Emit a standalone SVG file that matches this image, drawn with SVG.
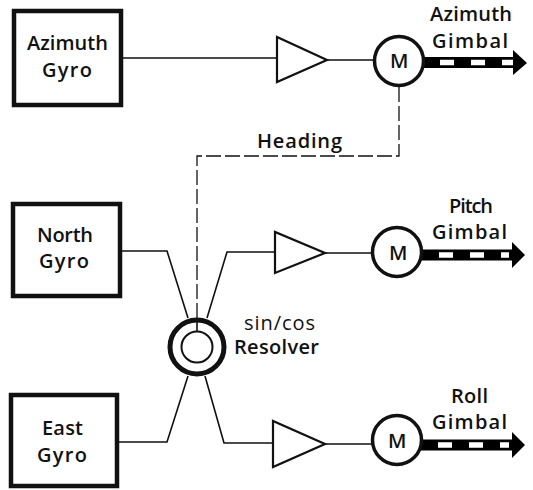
<svg xmlns="http://www.w3.org/2000/svg" width="533" height="490" viewBox="0 0 533 490">
<style>
.bx{fill:#fff;stroke:#111;stroke-width:4.5}
.t{font-family:"Open Sans","Liberation Sans",sans-serif;font-size:20px;font-weight:600;fill:#111}
.w{fill:none;stroke:#111;stroke-width:1.6}
.d{fill:none;stroke:#111;stroke-width:1.3;stroke-dasharray:15 4}
.a{fill:#fff;stroke:#111;stroke-width:2.2}
.m{fill:#fff;stroke:#111;stroke-width:3.5}
.sh{fill:none;stroke:#000;stroke-width:11}
.dash{fill:none;stroke:#fff;stroke-width:5.5;stroke-dasharray:14 17}
</style>
<rect width="533" height="490" fill="#fff"/>
<g id="connectors">
<path class="w" d="M122 58H277M327 60H375"/>
<path class="w" d="M122 251H167L188 318M207 318L227 252H275M325 253H374"/>
<path class="w" d="M119 442H167L188 376M205 376L224 443H273M325 444H372"/>
<path class="d" d="M399 87V156H197V320"/>
<path class="sh" d="M420 62.500H514"/><path class="dash" d="M440 62.500H513"/><path d="M513 50 527 63 513 75Z" fill="#000"/>
<path class="sh" d="M420 255H513"/><path class="dash" d="M439 255H509"/><path d="M512 242 525 255 512 268Z" fill="#000"/>
<path class="sh" d="M418 445H513"/><path class="dash" d="M438 445H509"/><path d="M512 432 525 445 512 458Z" fill="#000"/>
</g>
<g id="azimuth-gyro"><rect class="bx" x="14" y="11" width="107" height="94"/><text class="t" x="27" y="50" textLength="81">Azimuth</text><text class="t" x="42" y="77" textLength="50">Gyro</text></g>
<g id="north-gyro"><rect class="bx" x="13" y="204" width="107" height="92"/><text class="t" x="37" y="242" textLength="56">North</text><text class="t" x="39" y="268" textLength="50">Gyro</text></g>
<g id="east-gyro"><rect class="bx" x="11" y="395" width="106" height="91"/><text class="t" x="42" y="435" textLength="41">East</text><text class="t" x="37" y="462" textLength="50">Gyro</text></g>
<g id="amp-azimuth"><path class="a" d="M277 37V82L327 60Z"/></g>
<g id="amp-pitch"><path class="a" d="M275 232V273L325 253Z"/></g>
<g id="amp-roll"><path class="a" d="M273 421V467L325 444Z"/></g>
<g id="motor-azimuth"><circle class="m" cx="399" cy="61" r="24.5"/><text class="t" x="390" y="68" textLength="18">M</text></g>
<g id="motor-pitch"><circle class="m" cx="397" cy="252" r="24.500"/><text class="t" x="389" y="260" textLength="18">M</text></g>
<g id="motor-roll"><circle class="m" cx="397" cy="440" r="24.500"/><text class="t" x="388" y="448" textLength="18">M</text></g>
<g id="resolver"><circle cx="197" cy="347" r="27" fill="#fff" stroke="#111" stroke-width="5"/><circle cx="197" cy="347" r="15.500" fill="#fff" stroke="#111" stroke-width="2"/><path class="w" d="M197 320V331"/></g>
<g id="labels">
<text class="t" x="430" y="21" textLength="82">Azimuth</text><text class="t" x="432" y="48" textLength="76">Gimbal</text>
<text class="t" x="257" y="148" textLength="85">Heading</text>
<text class="t" x="449" y="213" textLength="44">Pitch</text><text class="t" x="432" y="239" textLength="75">Gimbal</text>
<text class="t" x="244" y="330" textLength="71" style="font-weight:500">sin/cos</text><text class="t" x="234" y="354" textLength="85">Resolver</text>
<text class="t" x="451" y="403" textLength="37">Roll</text><text class="t" x="432" y="429" textLength="75">Gimbal</text>
</g>
</svg>
